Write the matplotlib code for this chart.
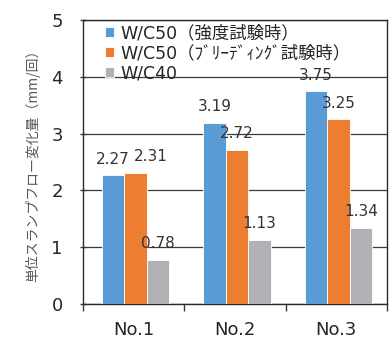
import matplotlib
matplotlib.use("Agg")
import matplotlib.pyplot as plt
import numpy as np

plt.rcParams['font.family'] = ['DejaVu Sans', 'Noto Sans CJK JP']

categories = ["No.1", "No.2", "No.3"]
series_names = ["W/C50（強度試験時）", "W/C50（ﾌﾞﾘｰﾃﾞｨﾝｸﾞ試験時）", "W/C40"]
wc50_strength = [2.27, 3.19, 3.75]
wc50_bleeding = [2.31, 2.72, 3.25]
wc40 = [0.78, 1.13, 1.34]
colors = ["#5B9BD5", "#ED7D31", "#B1B2B5"]
ylabel = "単位スランプフロー変化量（mm/回）"

fig = plt.figure(figsize=(3.9, 3.4), dpi=100)
ax = fig.add_axes([83/390, 1-304/340, (387-83)/390, (304-20)/340])

x = np.arange(len(categories))
w = 0.222
series = [wc50_strength, wc50_bleeding, wc40]
label_dx = [[0, 0, 0], [15, 0, 0], [0, 0, 0]]  # px offsets
for i, (vals, col, name) in enumerate(zip(series, colors, series_names)):
    bars = ax.bar(x + (i - 1) * w + 0.02, vals, w, color=col, edgecolor="white",
                  linewidth=0.6, label=name, zorder=3)
    for j, (b, v) in enumerate(zip(bars, vals)):
        ax.annotate(f"{v:.2f}", (b.get_x() + b.get_width() / 2, v),
                    xytext=(label_dx[i][j] * 0.72, 16 * 0.72), textcoords="offset points",
                    ha="center", va="center", fontsize=11, color="#333333", zorder=4)

ax.set_xlim(-0.5, 2.5)
ax.set_ylim(0, 5)
ax.set_yticks(range(0, 6))
ax.yaxis.grid(True, color="#3a3a3a", linewidth=0.9, zorder=0)
ax.set_axisbelow(True)
ax.set_xticks(x)
ax.set_xticklabels(categories, fontsize=13, color="#262626")
ax.set_xticks([-0.5, 0.5, 1.5, 2.5], minor=True)
ax.tick_params(axis="x", which="major", length=0, pad=12)
ax.tick_params(axis="x", which="minor", length=5, direction="out", width=1, color="#3a3a3a")
ax.tick_params(axis="y", length=5, direction="inout", width=1, color="#3a3a3a",
               labelsize=13, labelcolor="#262626", pad=12)
for s in ax.spines.values():
    s.set_color("#2a2a2a")
    s.set_linewidth(1.0)

ax.set_ylabel(ylabel, fontsize=10, color="#595959", labelpad=8,
              family=['Noto Sans CJK JP', 'DejaVu Sans'])

leg = ax.legend(loc="upper left", bbox_to_anchor=(0.072, 0.984), frameon=False,
                fontsize=12.5, handlelength=0.5, handleheight=0.5, handletextpad=0.4,
                labelspacing=0.1, borderaxespad=0, borderpad=0)
for t in leg.get_texts():
    t.set_color("#262626")

fig.savefig("out.png", dpi=100)
